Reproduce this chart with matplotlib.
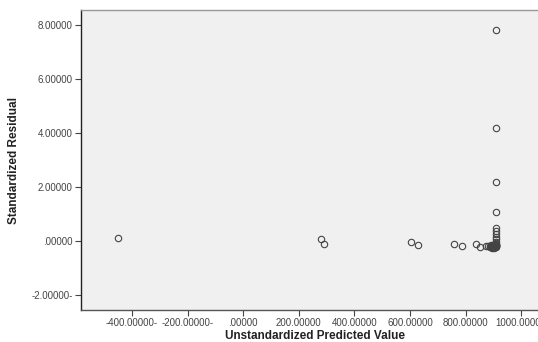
import matplotlib
matplotlib.use("Agg")
import matplotlib.pyplot as plt

# predicted values (x) and standardized residuals (y)
pred_scattered = [-450, 281, 291, 603, 630, 760, 788, 837, 852, 873, 882]
resid_scattered = [0.10, 0.07, -0.10, -0.05, -0.16, -0.12, -0.20, -0.13, -0.23, -0.19, -0.21]

pred_stack = [911, 911, 911, 911, 911, 911, 911, 911, 911, 911, 911, 911, 911, 911]
resid_stack = [7.80, 4.16, 2.17, 1.06, 0.49, 0.37, 0.26, 0.15, 0.05, -0.05, -0.12, -0.17, -0.20, -0.23]

pred_cluster = [888, 890, 892, 894, 896, 898, 900, 902, 904, 906, 908, 910,
                889, 891, 893, 895, 897, 899, 901, 903, 905, 907, 909,
                892, 895, 898, 901, 904, 907, 910]
resid_cluster = [-0.20, -0.22, -0.19, -0.23, -0.21, -0.18, -0.22, -0.20, -0.24, -0.19, -0.21, -0.18,
                 -0.24, -0.18, -0.21, -0.17, -0.23, -0.20, -0.17, -0.23, -0.18, -0.22, -0.16,
                 -0.15, -0.25, -0.16, -0.25, -0.15, -0.24, -0.14]

xticks = [-400, -200, 0, 200, 400, 600, 800, 1000]
xtick_labels = ["-400.00000-", "-200.00000-", ".00000", "200.00000", "400.00000",
                "600.00000", "800.00000", "1000.00000"]
yticks = [-2, 0, 2, 4, 6, 8]
ytick_labels = ["-2.00000-", ".00000", "2.00000", "4.00000", "6.00000", "8.00000"]

plt.rcParams['font.family'] = ['Liberation Sans', 'DejaVu Sans']

fig = plt.figure(figsize=(5.38, 3.42), dpi=100)
ax = fig.add_axes([81/538, 32/342, 468/538, 300/342])
ax.set_facecolor('#f0f0f0')

all_x = pred_scattered + pred_stack + pred_cluster
all_y = resid_scattered + resid_stack + resid_cluster
ax.plot(all_x, all_y, linestyle='none', marker='o', markersize=4.6,
        markerfacecolor='none', markeredgecolor='#444444', markeredgewidth=0.8)

ax.set_xlim(-583, 1100)
ax.set_ylim(-2.56, 8.54)
ax.set_xticks(xticks)
ax.set_xticklabels(xtick_labels)
ax.set_yticks(yticks)
ax.set_yticklabels(ytick_labels)
ax.tick_params(axis='both', direction='out', length=4, width=0.8, color='#444444',
               labelsize=7, labelcolor='#444444', pad=2)

ax.spines['left'].set_color('#222222')
ax.spines['bottom'].set_color('#555555')
ax.spines['top'].set_color('#999999')
ax.spines['right'].set_visible(False)
for s in ax.spines.values():
    s.set_linewidth(1.0)

ax.set_xlabel('Unstandardized Predicted Value', fontsize=8.5, fontweight='bold',
              color='#222222', labelpad=1)
ax.set_ylabel('Standardized Residual', fontsize=8.5, fontweight='bold',
              color='#222222', labelpad=8, fontstretch='condensed')

fig.savefig('out.png', dpi=100)
